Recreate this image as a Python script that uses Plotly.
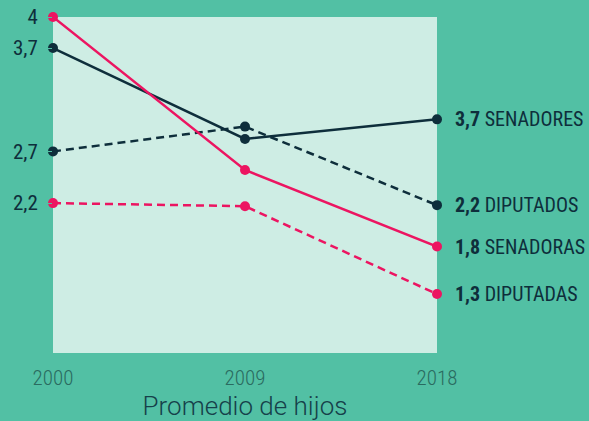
import plotly.graph_objects as go

anios = [2000, 2009, 2018]

senadores = [3.7, 2.82, 3.01]
diputados = [2.7, 2.94, 2.18]
senadoras = [4.0, 2.52, 1.78]
diputadas = [2.2, 2.17, 1.32]

etiquetas_inicio = ["4", "3,7", "2,7", "2,2"]
valores_inicio = [4.0, 3.7, 2.7, 2.2]

etiquetas_fin = ["3,7", "2,2", "1,8", "1,3"]
nombres_fin = ["SENADORES", "DIPUTADOS", "SENADORAS", "DIPUTADAS"]

FONDO = "#52c0a4"
AREA = "#ceede4"
AZUL = "#0e2e3b"
ROSA = "#ec1561"
CONDENSADA = "Roboto Condensed, Roboto, sans-serif"

series = [
    (senadores, AZUL, "solid"),
    (diputados, AZUL, "8px,5px"),
    (senadoras, ROSA, "solid"),
    (diputadas, ROSA, "8px,5px"),
]

fig = go.Figure()

for valores, color, estilo in series:
    fig.add_trace(go.Scatter(
        x=anios,
        y=valores,
        mode="lines+markers",
        line=dict(color=color, width=2.5, dash=estilo),
        marker=dict(color=color, size=10),
        cliponaxis=False,
        showlegend=False,
        hoverinfo="skip"
    ))

# etiquetas a la derecha
for (valores, _, _), num, nombre in zip(series, etiquetas_fin, nombres_fin):
    fig.add_annotation(
        x=anios[-1],
        y=valores[-1],
        text=f"<b>{num}</b> {nombre}",
        showarrow=False,
        xanchor="left",
        yanchor="middle",
        xshift=16,
        font=dict(family=CONDENSADA, size=20, color=AZUL)
    )

fig.update_layout(
    width=589,
    height=421,
    paper_bgcolor=FONDO,
    plot_bgcolor=AREA,
    margin=dict(l=53, r=152, t=17, b=68),
    font=dict(family=CONDENSADA),
    xaxis=dict(
        range=[2000, 2018],
        tickvals=anios,
        ticktext=[str(a) for a in anios],
        showgrid=False,
        zeroline=False,
        automargin=False,
        ticks="outside",
        ticklen=6,
        tickcolor=FONDO,
        tickfont=dict(family=CONDENSADA, size=21, color="#2a6b60", weight=300),
        title=dict(
            text="Promedio de hijos",
            font=dict(family="Roboto, sans-serif", size=26, color="#16404a", weight=300),
            standoff=8
        )
    ),
    yaxis=dict(
        range=[0.75, 4.0],
        tickvals=valores_inicio,
        ticktext=etiquetas_inicio,
        showgrid=False,
        zeroline=False,
        automargin=False,
        ticks="outside",
        ticklen=10,
        tickcolor=FONDO,
        tickfont=dict(family=CONDENSADA, size=21, color=AZUL)
    )
)

fig.write_html(
    "out.html",
    config={"displayModeBar": False},
    post_script="document.body.style.margin='0';"
)
